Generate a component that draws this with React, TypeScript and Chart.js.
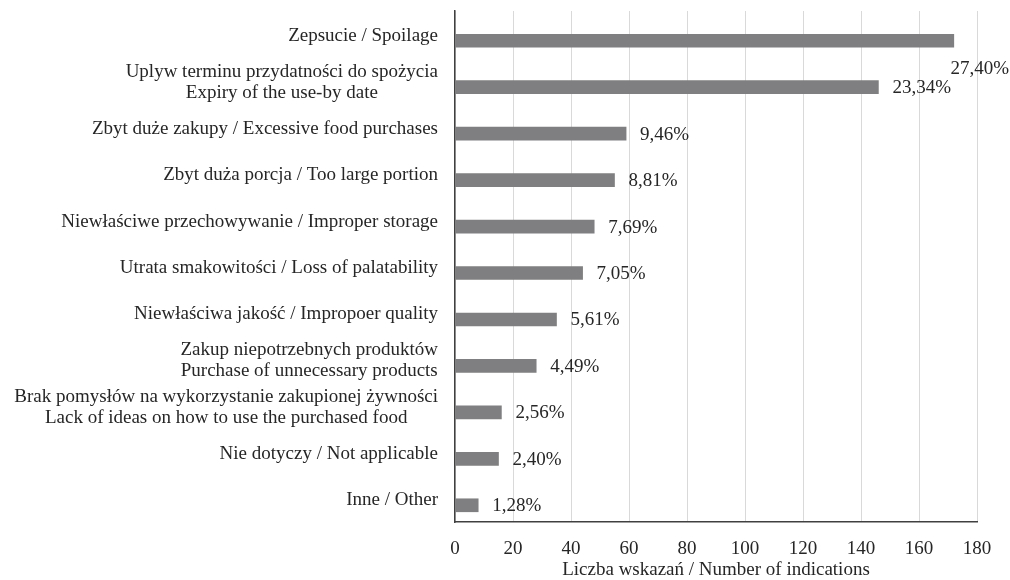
import React, { useEffect, useRef } from "react";
import { Chart, registerables } from "chart.js";

Chart.register(...registerables);

const categories: string[][] = [
  ["Zepsucie / Spoilage"],
  ["Uplyw terminu przydatności do spożycia", "Expiry of the use-by date"],
  ["Zbyt duże zakupy / Excessive food purchases"],
  ["Zbyt duża porcja / Too large portion"],
  ["Niewłaściwe przechowywanie / Improper storage"],
  ["Utrata smakowitości / Loss of palatability"],
  ["Niewłaściwa jakość / Impropoer quality"],
  ["Zakup niepotrzebnych produktów", "Purchase of unnecessary products"],
  [
    "Brak pomysłów na wykorzystanie zakupionej żywności",
    "Lack of ideas on how to use the purchased food",
  ],
  ["Nie dotyczy / Not applicable"],
  ["Inne / Other"],
];

const counts: number[] = [172, 146, 59, 55, 48, 44, 35, 28, 16, 15, 8];

const percentLabels: string[] = [
  "27,40%",
  "23,34%",
  "9,46%",
  "8,81%",
  "7,69%",
  "7,05%",
  "5,61%",
  "4,49%",
  "2,56%",
  "2,40%",
  "1,28%",
];

const xTicks: number[] = [0, 20, 40, 60, 80, 100, 120, 140, 160, 180];

const axisTitle = "Liczba wskazań / Number of indications";

const FONT = "'Liberation Serif', 'Times New Roman', serif";
const TEXT = "#262626";
const FS = 19;

const labelPlugin = {
  id: "customLabels",
  afterDatasetsDraw(chart: any) {
    const ctx = chart.ctx as CanvasRenderingContext2D;
    const yScale = chart.scales.y;
    const meta = chart.getDatasetMeta(0);
    ctx.save();
    ctx.font = `${FS}px ${FONT}`;
    ctx.fillStyle = TEXT;
    ctx.textBaseline = "middle";

    categories.forEach((lines, i) => {
      const cy = yScale.getPixelForValue(i) - 5;
      const maxW = Math.max(...lines.map((l) => ctx.measureText(l).width));
      const right = yScale.right - 17;
      const cx = right - maxW / 2;
      ctx.textAlign = "center";
      lines.forEach((l, k) => {
        ctx.fillText(l, cx, cy + (k - (lines.length - 1) / 2) * 21);
      });
    });

    meta.data.forEach((bar: any, i: number) => {
      const text = percentLabels[i];
      const w = ctx.measureText(text).width;
      let x = bar.x + 14;
      let y = bar.y + 1;
      if (x + w > chart.width) {
        x = Math.min(bar.x, chart.width - w - 1);
        y = bar.y + 28;
      }
      ctx.textAlign = "left";
      ctx.fillText(text, x, y);
    });
    ctx.restore();
  },
};

export default function App() {
  const canvasRef = useRef<HTMLCanvasElement | null>(null);

  useEffect(() => {
    if (!canvasRef.current) return;
    const chart = new Chart(canvasRef.current, {
      type: "bar",
      data: {
        datasets: [
          {
            data: counts.map((v, i) => ({ x: v, y: i })),
            backgroundColor: "#7f7f81",
            borderWidth: 0,
            barThickness: 13,
          },
        ],
      },
      options: {
        indexAxis: "y",
        animation: false,
        responsive: true,
        maintainAspectRatio: false,
        layout: { padding: { top: 11, right: 33, left: 0, bottom: 0 } },
        plugins: {
          legend: { display: false },
          tooltip: { enabled: false },
        },
        scales: {
          x: {
            type: "linear",
            min: 0,
            max: 180,
            afterBuildTicks: (scale: any) => {
              scale.ticks = xTicks.map((v) => ({ value: v }));
            },
            afterFit: (scale: any) => {
              scale.height = 58;
            },
            grid: {
              color: "#d9d9d9",
              lineWidth: 1,
              drawTicks: false,
            },
            border: { display: true, color: "#404040", width: 1.5 },
            ticks: {
              color: TEXT,
              font: { family: FONT, size: FS },
              padding: 16,
              maxRotation: 0,
            },
            title: {
              display: true,
              text: axisTitle,
              color: TEXT,
              font: { family: FONT, size: FS, lineHeight: 1.0 },
              padding: { top: 0, bottom: 0 },
            },
          },
          y: {
            type: "linear",
            min: -0.64,
            max: 10.36,
            reverse: true,
            afterBuildTicks: (scale: any) => {
              scale.ticks = [];
            },
            afterFit: (scale: any) => {
              scale.width = 455;
            },
            grid: { display: false, drawTicks: false },
            border: { display: true, color: "#404040", width: 1.5 },
            ticks: { display: false },
          },
        },
      },
      plugins: [labelPlugin],
    });
    return () => chart.destroy();
  }, []);

  return (
    <div
      style={{
        position: "absolute",
        left: 0,
        top: 0,
        width: 1010,
        height: 580,
        background: "#ffffff",
      }}
    >
      <canvas ref={canvasRef} />
    </div>
  );
}
